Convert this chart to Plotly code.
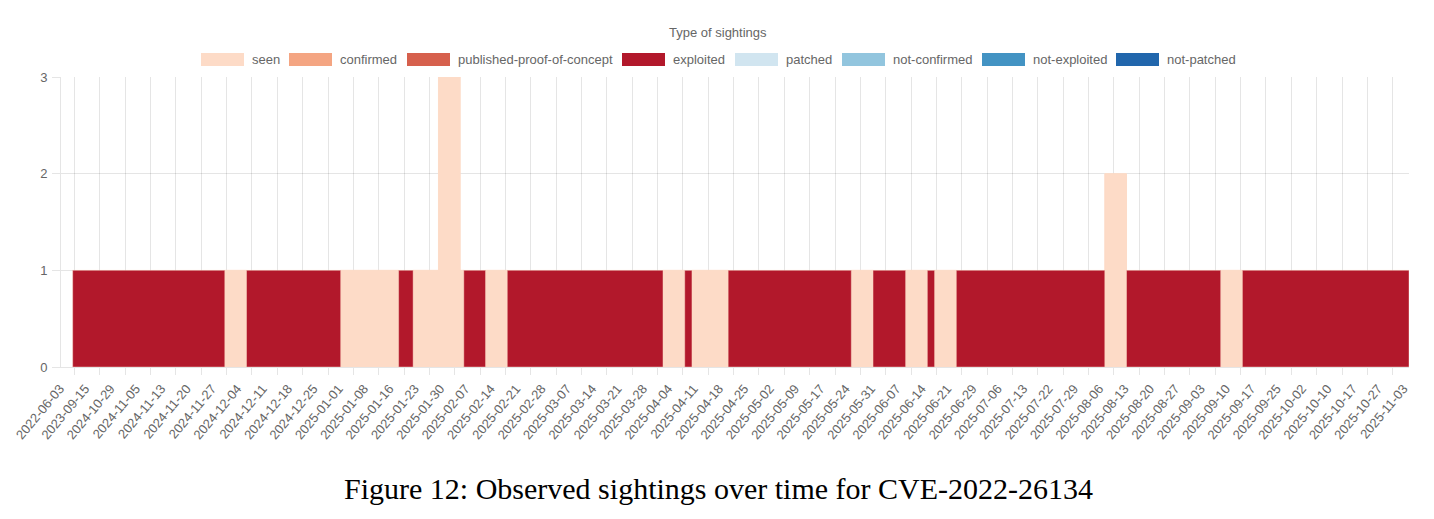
import plotly.graph_objects as go

# ---------------- data ----------------
tick_labels = ["2022-06-03", "2023-09-15", "2024-10-29", "2024-11-05", "2024-11-13", "2024-11-20",
               "2024-11-27", "2024-12-04", "2024-12-11", "2024-12-18", "2024-12-25", "2025-01-01",
               "2025-01-08", "2025-01-16", "2025-01-23", "2025-01-30", "2025-02-07", "2025-02-14",
               "2025-02-21", "2025-02-28", "2025-03-07", "2025-03-14", "2025-03-21", "2025-03-28",
               "2025-04-04", "2025-04-11", "2025-04-18", "2025-04-25", "2025-05-02", "2025-05-09",
               "2025-05-17", "2025-05-24", "2025-05-31", "2025-06-07", "2025-06-14", "2025-06-21",
               "2025-06-29", "2025-07-06", "2025-07-13", "2025-07-22", "2025-07-29", "2025-08-06",
               "2025-08-13", "2025-08-20", "2025-08-27", "2025-09-03", "2025-09-10", "2025-09-17",
               "2025-09-25", "2025-10-02", "2025-10-10", "2025-10-17", "2025-10-27", "2025-11-03"]

series_names = ["seen", "confirmed", "published-proof-of-concept", "exploited",
                "patched", "not-confirmed", "not-exploited", "not-patched"]

# runs of consecutive categories (category index start inclusive, end exclusive)
seg_start = [3, 45, 51, 77, 93, 97, 104, 110, 111, 117, 123, 166, 172, 174, 184, 218, 224,
             233, 239, 241, 247, 288, 294, 320, 326]
seg_end = [45, 51, 77, 93, 97, 104, 110, 111, 117, 123, 166, 172, 174, 184, 218, 224, 233,
           239, 241, 247, 288, 294, 320, 326, 372]
seg_series = ["exploited", "seen", "exploited", "seen", "exploited", "seen", "seen", "seen",
              "exploited", "seen", "exploited", "seen", "exploited", "seen", "exploited", "seen",
              "exploited", "seen", "exploited", "seen", "exploited", "seen", "exploited", "seen",
              "exploited"]
seg_count = [1, 1, 1, 1, 1, 1, 3, 1, 1, 1, 1, 1, 1, 1, 1, 1, 1, 1, 1, 1, 1, 2, 1, 1, 1]

# ---------------- style ----------------
COLORS = {"seen": "#fddbc7", "confirmed": "#f4a582", "published-proof-of-concept": "#d6604d",
          "exploited": "#b2182b", "patched": "#d1e5f0", "not-confirmed": "#92c5de",
          "not-exploited": "#4393c3", "not-patched": "#2166ac"}
EDGE = {"seen": "rgba(253,219,199,1)", "exploited": "rgba(253,219,199,0.45)"}
TICK_STEP = 7
GRID = "rgba(0,0,0,0.1)"
TXT = "#666666"
FONT = "Liberation Sans, Arial, Helvetica, sans-serif"
FS = 13

W, H = 1434, 519
ML, MR, MT, MB = 61, 25, 77, 152
PW, PH = W - ML - MR, H - MT - MB


def px2paper_x(px):
    return (px - ML) / PW


def px2paper_y(py):
    return (H - MB - py) / PH


fig = go.Figure()
for name in series_names:
    xs, ws, ys = [], [], []
    for s, e, ser, c in zip(seg_start, seg_end, seg_series, seg_count):
        if ser == name:
            xs.append((s + e) / 2)
            ws.append(e - s)
            ys.append(c)
    fig.add_trace(go.Bar(
        x=xs, y=ys, width=ws, name=name, showlegend=False,
        marker=dict(color=COLORS[name], line=dict(width=1, color=EDGE.get(name, COLORS[name]))),
        hoverinfo="skip",
    ))

# custom Chart.js-like legend (wide boxes)
LEGEND_BOX_X = [201, 289, 407, 622, 735, 842, 982, 1116]
shapes, annotations = [], []
for name, bx in zip(series_names, LEGEND_BOX_X):
    shapes.append(dict(type="rect", xref="paper", yref="paper",
                       x0=px2paper_x(bx), x1=px2paper_x(bx + 43),
                       y0=px2paper_y(66), y1=px2paper_y(53),
                       fillcolor=COLORS[name], line=dict(width=0)))
    annotations.append(dict(text=name, xref="paper", yref="paper",
                            x=px2paper_x(bx + 49), y=px2paper_y(59.5),
                            xanchor="left", yanchor="middle", showarrow=False,
                            font=dict(family=FONT, size=FS, color=TXT)))
annotations.append(dict(text="Type of sightings", xref="paper", yref="paper",
                        x=px2paper_x(718), y=px2paper_y(33), xanchor="center", yanchor="middle",
                        showarrow=False, font=dict(family=FONT, size=FS, color=TXT)))
annotations.append(dict(text="Figure 12: Observed sightings over time for CVE-2022-26134",
                        xref="paper", yref="paper", x=px2paper_x(718), y=px2paper_y(488),
                        xanchor="center", yanchor="middle", showarrow=False,
                        font=dict(family="Liberation Serif, Times New Roman, serif", size=30,
                                  color="#000000")))

fig.update_layout(
    width=W, height=H,
    margin=dict(l=ML, r=MR, t=MT, b=MB, pad=0, autoexpand=False),
    paper_bgcolor="white", plot_bgcolor="white",
    barmode="overlay",
    shapes=shapes, annotations=annotations,
    font=dict(family=FONT, size=FS, color=TXT),
    xaxis=dict(
        range=[-0.23, 372.0],
        automargin=False,
        tickmode="array",
        tickvals=[i * TICK_STEP for i in range(len(tick_labels))],
        ticktext=tick_labels,
        tickangle=-50,
        ticks="",
        ticklabelstandoff=8,
        ticklabelshift=-2,
        showgrid=False,
        zeroline=False,
        showline=True, linecolor=GRID, linewidth=1,
        tickfont=dict(family=FONT, size=FS, color=TXT),
        minor=dict(tickmode="linear", tick0=TICK_STEP / 2, dtick=TICK_STEP,
                   showgrid=True, gridcolor=GRID, gridwidth=1,
                   ticks="outside", ticklen=7, tickcolor=GRID),
        fixedrange=True,
    ),
    yaxis=dict(
        range=[0, 3],
        automargin=False,
        tickmode="array", tickvals=[0, 1, 2, 3],
        showgrid=True, gridcolor=GRID, gridwidth=1,
        zeroline=False,
        showline=True, linecolor=GRID, linewidth=1,
        ticks="outside", ticklen=8, tickcolor=GRID,
        ticklabelstandoff=2,
        tickfont=dict(family=FONT, size=FS, color=TXT),
        fixedrange=True,
    ),
)

fig.write_html("out.html")
